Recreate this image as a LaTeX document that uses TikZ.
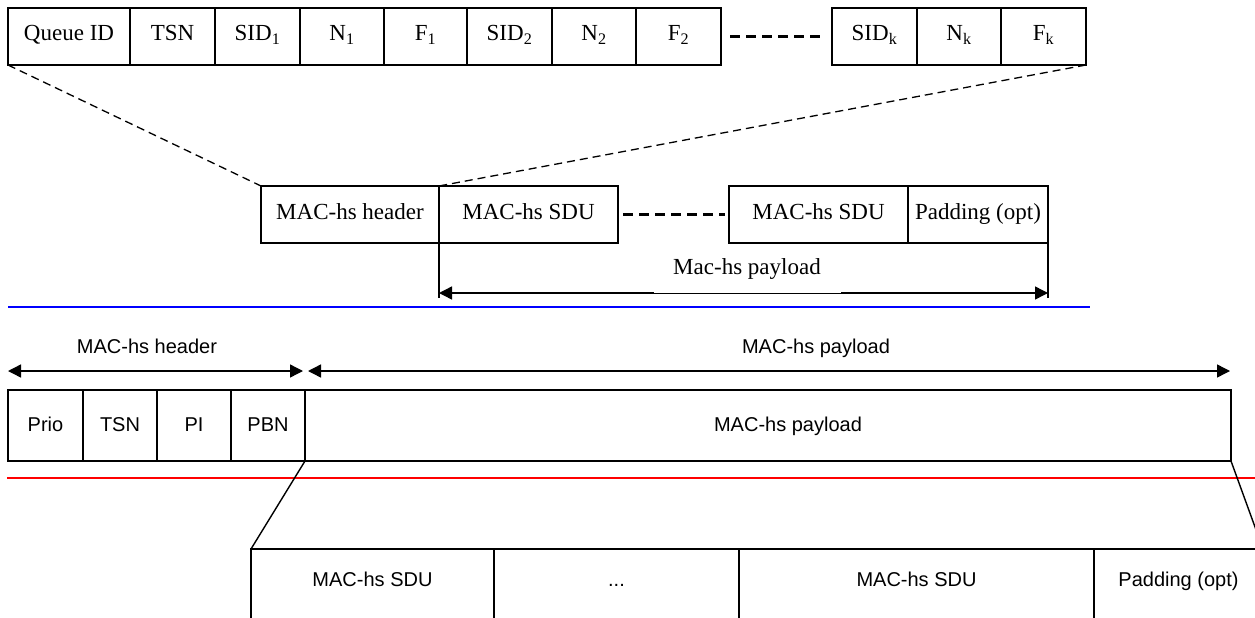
\documentclass[tikz,border=0pt]{standalone}
\usepackage{fontspec}
\setmainfont{Liberation Serif}
\newfontfamily\arialfont{Liberation Sans}
\usetikzlibrary{positioning,arrows.meta}

\begin{document}
\begin{tikzpicture}[x=1pt,y=-1pt,node distance=0pt,
    field/.style={draw, line width=1.4pt, inner sep=0pt, outer sep=0pt,
      minimum height=57pt, text height=15pt, text depth=6pt,
      font=\fontsize{23}{27}\selectfont},
    afield/.style={draw, line width=1.4pt, inner sep=0pt, outer sep=0pt,
      minimum height=71pt, text height=14.5pt, text depth=3pt,
      font=\arialfont\fontsize{20}{24}\selectfont},
    sdufield/.style={afield, minimum height=100pt, text depth=40pt},
    alabel/.style={inner sep=0pt, text height=14.5pt, text depth=3pt,
      font=\arialfont\fontsize{20}{24}\selectfont},
    dots/.style={dash pattern=on 10pt off 6pt, line width=2.6pt},
    zoomline/.style={dash pattern=on 8pt off 5pt, line width=1.3pt},
    span/.style={line width=1.4pt,
      {Triangle[length=13pt,width=13pt]}-{Triangle[length=13pt,width=13pt]}}]

    \useasboundingbox (0,0) rectangle (1255,618);
    \clip (0,0) rectangle (1255,618);

    % header fields
    \node[field, anchor=north west, minimum width=122pt] (qid) at (8,8) {Queue ID};
    \node[field, minimum width=85pt, right=of qid] (tsn) {TSN};
    \node[field, minimum width=85pt, right=of tsn] (sid1) {SID\textsubscript{1}};
    \node[field, minimum width=84pt, right=of sid1] (n1) {N\textsubscript{1}};
    \node[field, minimum width=83pt, right=of n1] (f1) {F\textsubscript{1}};
    \node[field, minimum width=85pt, right=of f1] (sid2) {SID\textsubscript{2}};
    \node[field, minimum width=84pt, right=of sid2] (n2) {N\textsubscript{2}};
    \node[field, minimum width=85pt, right=of n2] (f2) {F\textsubscript{2}};
    \node[field, anchor=north west, minimum width=85pt] (sidk) at (832,8) {SID\textsubscript{k}};
    \node[field, minimum width=84pt, right=of sidk] (nk) {N\textsubscript{k}};
    \node[field, minimum width=85pt, right=of nk] (fk) {F\textsubscript{k}};
    \draw[dots, shorten <=9pt, shorten >=10pt] (f2) -- (sidk);

    % MAC-hs PDU
    \node[field, anchor=north west, minimum width=178pt] (hdr) at (261,186) {MAC-hs header};
    \node[field, minimum width=179pt, right=of hdr] (sdu1) {MAC-hs SDU};
    \node[field, anchor=north west, minimum width=179pt] (sdu2) at (729,186) {MAC-hs SDU};
    \node[field, minimum width=140pt, right=of sdu2] (pad) {Padding (opt)};
    \draw[dots, shorten <=5pt, shorten >=4pt] (sdu1) -- (sdu2);
    \draw[zoomline] (qid.south west) -- (hdr.north west);
    \draw[zoomline] (fk.south east) -- (hdr.north east);

    \coordinate (pl) at (439,298);
    \coordinate (pr) at (1048,298);
    \coordinate (al) at (439,293);
    \coordinate (ar) at (1048,293);
    \draw[line width=1.4pt] (sdu1.south west) -- (pl);
    \draw[line width=1.4pt] (pad.south east) -- (pr);
    \draw[span] (al) -- (ar);
    \node[fill=white, inner sep=0pt, minimum width=187pt, minimum height=46pt,
      text height=15pt, text depth=6pt, font=\fontsize{23}{27}\selectfont]
      (plabel) at (747,270) {Mac-hs payload};

    \draw[blue, line width=1.4pt] (8,307) -- (1090,307);

    % second format
    \coordinate (hl) at (8,371);
    \coordinate (hr) at (303,371);
    \coordinate (ql) at (308,371);
    \coordinate (qr) at (1230,371);
    \draw[span] (hl) -- (hr);
    \draw[span] (ql) -- (qr);
    \node[alabel] (hlab) at (147,348) {MAC-hs header};
    \node[alabel] (qlab) at (816,348) {MAC-hs payload};

    \node[afield, anchor=north west, minimum width=75pt] (prio) at (8,390) {Prio};
    \node[afield, minimum width=74pt, right=of prio] (tsnb) {TSN};
    \node[afield, minimum width=74pt, right=of tsnb] (pi) {PI};
    \node[afield, minimum width=74pt, right=of pi] (pbn) {PBN};
    \node[afield, minimum width=926pt, right=of pbn] (pay) {\hspace*{40pt}MAC-hs payload};

    \draw[red, line width=1.6pt] (7,478) -- (1255,478);

    \node[sdufield, anchor=north west, minimum width=243pt] (sdua) at (251,549) {MAC-hs SDU};
    \node[sdufield, minimum width=245pt, right=of sdua] (ellip) {...};
    \node[sdufield, minimum width=355pt, right=of ellip] (sdub) {MAC-hs SDU};
    \node[sdufield, minimum width=169pt, right=of sdub] (padb) {Padding (opt)};
    \draw[line width=1.4pt] (pay.south west) -- (sdua.north west);
    \draw[line width=1.4pt] (pay.south east) -- (padb.north east);

\end{tikzpicture}
\end{document}
